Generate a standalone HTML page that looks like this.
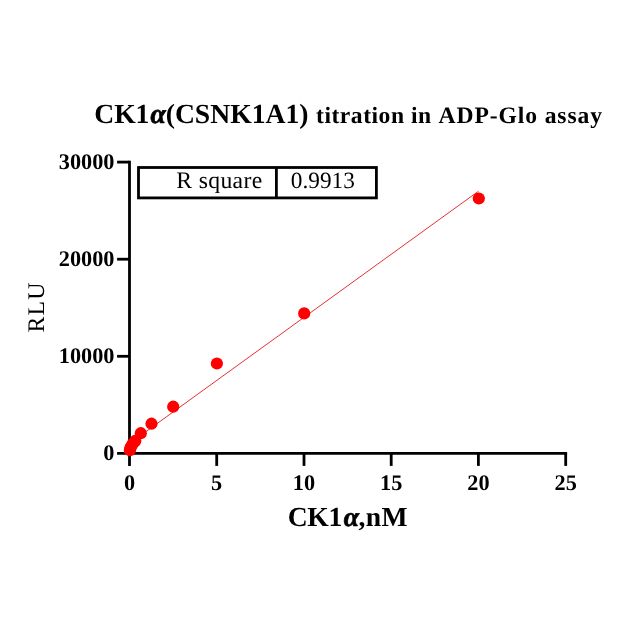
<!DOCTYPE html>
<html>
<head>
<meta charset="utf-8">
<style>
html,body{margin:0;padding:0;background:#ffffff;}
body{width:634px;height:634px;overflow:hidden;}
svg{display:block;will-change:transform;}
text{font-family:"Liberation Serif",serif;fill:#000;text-rendering:geometricPrecision;}
.b{font-weight:bold;}
</style>
</head>
<body>
<svg width="634" height="634" viewBox="0 0 634 634">
<rect x="0" y="0" width="634" height="634" fill="#ffffff"/>

<!-- title -->
<text id="t1" class="b" x="94.3" y="123.4" font-size="27.65"><tspan letter-spacing="-0.1">CK1</tspan><tspan font-style="italic" dx="1.1" stroke="#000" stroke-width="0.7">α</tspan><tspan dx="0.0">(CSNK1A1)</tspan></text>
<text id="t2" class="b" x="316.0" y="123.4" font-size="23.6"><tspan letter-spacing="0.52">titration in </tspan><tspan letter-spacing="0.9" dx="0.4">ADP-Glo assay</tspan></text>

<!-- regression line -->
<line x1="129.5" y1="443.5" x2="478.5" y2="191.2" stroke="#e83030" stroke-width="1"/>

<!-- axes -->
<g stroke="#000" stroke-width="2.8" fill="none" stroke-linecap="butt">
  <line x1="129.5" y1="160.7" x2="129.5" y2="465.9"/>
  <line x1="117.1" y1="453.4" x2="567.1" y2="453.4"/>
  <!-- y ticks -->
  <line x1="117.1" y1="162.1" x2="129.5" y2="162.1"/>
  <line x1="117.1" y1="259.2" x2="129.5" y2="259.2"/>
  <line x1="117.1" y1="356.3" x2="129.5" y2="356.3"/>
  <!-- x ticks -->
  <line x1="216.7" y1="453.4" x2="216.7" y2="465.9"/>
  <line x1="304.0" y1="453.4" x2="304.0" y2="465.9"/>
  <line x1="391.2" y1="453.4" x2="391.2" y2="465.9"/>
  <line x1="478.4" y1="453.4" x2="478.4" y2="465.9"/>
  <line x1="565.7" y1="453.4" x2="565.7" y2="465.9"/>
</g>

<!-- y tick labels -->
<g class="b" font-size="22.3" text-anchor="end">
  <text x="114.5" y="169.1">30000</text>
  <text x="114.5" y="266.2">20000</text>
  <text x="114.5" y="363.3">10000</text>
  <text x="114.5" y="460.4">0</text>
</g>
<!-- x tick labels -->
<g class="b" font-size="22.3" text-anchor="middle">
  <text x="129.5" y="489.7">0</text>
  <text x="216.7" y="489.7">5</text>
  <text x="304.0" y="489.7">10</text>
  <text x="391.2" y="489.7">15</text>
  <text x="478.4" y="489.7">20</text>
  <text x="565.7" y="489.7">25</text>
</g>

<!-- axis titles -->
<text id="xl" class="b" x="287.7" y="526.0" font-size="27.6"><tspan letter-spacing="-0.3">CK1</tspan><tspan font-style="italic" dx="1.8" stroke="#000" stroke-width="0.7">α</tspan><tspan dx="-0.5" letter-spacing="0.3">,nM</tspan></text>
<text id="yl" transform="translate(44.3,307.0) rotate(-90)" font-size="23.8" letter-spacing="1.1" text-anchor="middle" style="text-rendering:geometricPrecision">RLU</text>

<!-- R square box -->
<g stroke="#000" stroke-width="2.8" fill="none">
  <rect x="138.5" y="167.5" width="237.9" height="30.4"/>
  <line x1="276.4" y1="167.5" x2="276.4" y2="197.9"/>
</g>
<text id="rs" x="176.2" y="187.9" font-size="23.7" letter-spacing="0.36">R square</text>
<text id="rv" x="290.8" y="187.9" font-size="23.3">0.9913</text>

<!-- data points -->
<g fill="#ff0000">
  <circle cx="478.8" cy="198.5" r="6.1"/>
  <circle cx="304.2" cy="313.4" r="6.1"/>
  <circle cx="216.9" cy="363.5" r="6.1"/>
  <circle cx="173.2" cy="406.7" r="6.1"/>
  <circle cx="151.5" cy="423.7" r="6.1"/>
  <circle cx="140.8" cy="433.2" r="6.1"/>
  <circle cx="135.3" cy="440.9" r="6.1"/>
  <circle cx="132.7" cy="443.9" r="6.1"/>
  <circle cx="131.0" cy="446.7" r="6.1"/>
  <circle cx="130.2" cy="448.5" r="6.1"/>
  <circle cx="129.9" cy="450.2" r="6.1"/>
</g>
</svg>
</body>
</html>
